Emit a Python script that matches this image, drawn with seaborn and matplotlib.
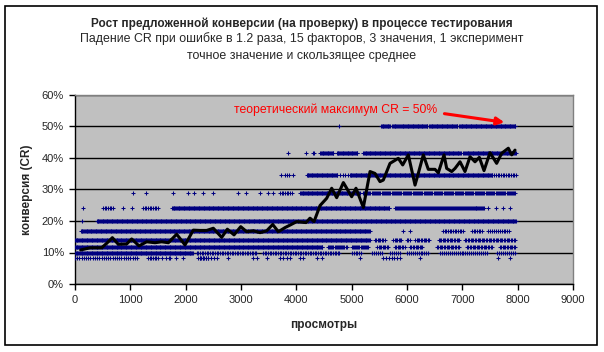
import numpy as np
import pandas as pd
import seaborn as sns
import matplotlib
matplotlib.use("Agg")
import matplotlib.pyplot as plt
from matplotlib.patches import Rectangle
from matplotlib.ticker import FuncFormatter, MultipleLocator

# discrete CR levels (%), each one 1.2 times lower than the previous
levels = [50.0, 41.7, 34.7, 28.9, 24.1, 20.1, 16.7, 14.0, 11.6, 9.7, 8.1]

# where the exact value sits on each level: (from view, to view, spacing)
dots_50 = [(4770, 4770, 1), (5530, 5700, 15), (5730, 5870, 15), (5890, 6380, 15),
           (6400, 6920, 15), (6940, 7970, 15)]
dots_42 = [(3850, 3850, 1), (4175, 4175, 1), (4300, 4320, 20), (4430, 4670, 15),
           (4730, 5115, 15), (5205, 6980, 15), (7020, 7970, 15)]
dots_35 = [(3717, 3717, 1), (3795, 3830, 35), (3870, 3940, 70), (4187, 4750, 15),
           (4790, 4970, 45), (4980, 7555, 15), (7580, 7970, 30)]
dots_29 = [(1043, 1043, 1), (1283, 1283, 1), (1777, 1777, 1), (2048, 2048, 1),
           (2156, 2156, 1), (2307, 2307, 1), (2488, 2488, 1), (2952, 2952, 1),
           (3090, 3090, 1), (3344, 3344, 1), (3488, 3488, 1), (3584, 3584, 1),
           (3705, 3940, 30), (4067, 5150, 15), (5200, 7970, 20)]
dots_24 = [(151, 151, 1), (506, 687, 30), (868, 868, 1), (1030, 1030, 1),
           (1229, 1500, 30), (1753, 5693, 15), (5780, 7410, 18), (7470, 7874, 130)]
dots_20 = [(120, 120, 1), (392, 7970, 15)]
dots_17 = [(103, 5330, 15), (5930, 6054, 124), (6650, 7012, 30), (7175, 7355, 30),
           (7465, 7862, 35)]
dots_14 = [(0, 5330, 15), (5420, 5600, 25), (5750, 5900, 25), (6000, 6050, 25),
           (6150, 6420, 25), (6570, 6950, 25), (7050, 7950, 25)]
dots_12 = [(0, 4480, 15), (4570, 4910, 20), (5000, 5300, 20), (5460, 5660, 25),
           (5780, 5960, 25), (6055, 6290, 25), (6540, 6960, 25), (7085, 7555, 25),
           (7680, 7970, 25)]
dots_10 = [(0, 2140, 15), (2200, 3300, 30), (3400, 4790, 30), (5000, 5205, 35),
           (5370, 5570, 35), (5690, 5870, 35), (6000, 6415, 35), (6600, 7445, 35),
           (7630, 7970, 35)]
dots_8 = [(0, 1120, 40), (1320, 1500, 30), (1580, 1640, 60), (1700, 1720, 20),
          (1830, 1830, 1), (1950, 1950, 1), (2220, 2400, 30), (2259, 2560, 50),
          (2770, 2770, 1), (3224, 3284, 60), (3465, 3465, 1), (3705, 3940, 60),
          (4067, 4067, 1), (4120, 4120, 1), (4370, 4370, 1), (4460, 4460, 1),
          (5150, 5150, 1), (5570, 5870, 50), (6235, 6235, 1), (7645, 7645, 1),
          (7860, 7860, 1)]
all_dots = [dots_50, dots_42, dots_35, dots_29, dots_24, dots_20,
            dots_17, dots_14, dots_12, dots_10, dots_8]

# moving average of the proposed conversion
ma_views = [103, 271, 482, 572, 675, 783, 934, 1024, 1157, 1295, 1446, 1566, 1687,
            1837, 1988, 2138, 2259, 2380, 2500, 2651, 2753, 2874, 2995, 3103, 3224,
            3344, 3465, 3573, 3675, 3795, 3886, 4007, 4175, 4247, 4320, 4428, 4548,
            4639, 4729, 4850, 5000, 5078, 5211, 5332, 5422, 5512, 5572, 5693, 5843,
            5922, 6024, 6145, 6204, 6295, 6385, 6506, 6566, 6669, 6717, 6808, 6868,
            6958, 7048, 7139, 7229, 7307, 7392, 7500, 7620, 7711, 7831, 7892, 7952]
ma_cr = [10.8, 11.5, 11.5, 12.9, 14.7, 12.6, 12.7, 14.3, 12.1, 13.4, 13.1, 13.4, 13.1,
         15.8, 12.4, 17.1, 17.0, 17.0, 17.7, 14.8, 17.4, 15.6, 18.2, 16.6, 16.9,
         16.3, 16.9, 18.9, 16.6, 17.9, 18.7, 19.8, 19.5, 20.9, 19.8, 24.9, 27.2,
         30.4, 27.4, 32.2, 27.7, 30.4, 24.3, 35.7, 35.1, 32.5, 33.0, 38.3, 39.9,
         37.8, 41.0, 31.4, 35.1, 41.0, 36.4, 36.4, 35.3, 41.0, 36.7, 35.7, 36.7,
         38.8, 35.7, 40.4, 38.8, 40.2, 36.0, 41.7, 38.3, 41.5, 43.1, 41.0, 42.5]

rows = []
for level, segs in zip(levels, all_dots):
    for start, end, step in segs:
        for v in np.arange(start, end + 1, step):
            rows.append((v, level))
dots_df = pd.DataFrame(rows, columns=["views", "cr"])
ma_df = pd.DataFrame({"views": ma_views, "cr": ma_cr})

sns.set_theme(style="ticks")
plt.rcParams["font.family"] = ["Liberation Sans", "DejaVu Sans"]

fig = plt.figure(figsize=(6.04, 3.52), dpi=100)
fig.patch.set_facecolor("white")
ax = fig.add_axes([75 / 604, 1 - 284 / 352, 498 / 604, 189 / 352])
ax.set_facecolor("#C0C0C0")

sns.scatterplot(data=dots_df, x="views", y="cr", marker="+", color="#000080",
                s=11, linewidth=0.75, ax=ax, zorder=3, legend=False)
sns.lineplot(data=ma_df, x="views", y="cr", color="black", linewidth=2.2,
             ax=ax, zorder=4, legend=False)

ax.set_xlim(0, 9000)
ax.set_ylim(0, 60)
ax.xaxis.set_major_locator(MultipleLocator(1000))
ax.yaxis.set_major_locator(MultipleLocator(10))
ax.yaxis.set_major_formatter(FuncFormatter(lambda v, p: f"{v:.0f}%"))
ax.grid(axis="y", color="black", linewidth=1.0)
ax.set_axisbelow(True)
for side in ["top", "right"]:
    ax.spines[side].set_color("#808080")
    ax.spines[side].set_linewidth(1.0)
for side in ["left", "bottom"]:
    ax.spines[side].set_color("black")
    ax.spines[side].set_linewidth(1.0)
ax.tick_params(axis="both", labelsize=8, length=4, width=1, color="black",
               direction="out", pad=4)

ax.set_xlabel("просмотры", fontsize=8.5, fontweight="bold", labelpad=10)
ax.set_ylabel("конверсия (CR)", fontsize=8.5, fontweight="bold", labelpad=6)

ax.annotate("теоретический максимум CR = 50%", xy=(7810, 51.2), xytext=(2880, 55.4),
            color="red", fontsize=8.8, va="center", ha="left")
ax.annotate("", xy=(7810, 51.2), xytext=(6627, 54.2),
            arrowprops=dict(arrowstyle="-|>", color="red", lw=2.2,
                            mutation_scale=11))

fig.text(0.5, 1 - 27 / 352, "Рост предложенной конверсии (на проверку) в процессе тестирования",
         ha="center", va="baseline", fontsize=8.5, fontweight="bold")
fig.text(0.5, 1 - 42 / 352, "Падение CR при ошибке в 1.2 раза, 15 факторов, 3 значения, 1 эксперимент",
         ha="center", va="baseline", fontsize=8.9)
fig.text(0.5, 1 - 59 / 352, "точное значение и скользящее среднее",
         ha="center", va="baseline", fontsize=8.9)

fig.patches.append(Rectangle((5 / 604, 1 - 345 / 352), 592 / 604, 339 / 352,
                             transform=fig.transFigure, fill=False,
                             edgecolor="black", linewidth=1.2))

fig.savefig("out.png", dpi=100)
